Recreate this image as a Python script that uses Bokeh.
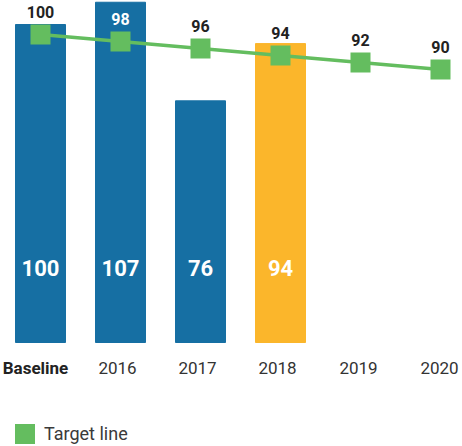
from bokeh.plotting import figure
from bokeh.models import Range1d, Legend, LegendItem, ColumnDataSource
from bokeh.core.properties import value
from bokeh.embed import file_html
from bokeh.resources import INLINE

categories = ["Baseline", "2016", "2017", "2018", "2019", "2020"]
actual = [100, 107, 76, 94]
target = [100, 98, 96, 94, 92, 90]
bar_colors = ["#166fa3", "#166fa3", "#166fa3", "#fbb62b"]
target_label_colors = ["#222222", "#ffffff", "#222222", "#222222", "#222222", "#222222"]
category_styles = ["bold", "normal", "normal", "normal", "normal", "normal"]
category_colors = ["#222222", "#333333", "#333333", "#333333", "#333333", "#333333"]
category_offsets = [-5, -3, -3, -3, -2, -1]

FONT = "Roboto"
GREEN = "#64bd5f"
PX = 3.18  # pixels per unit on the bar scale

p = figure(width=462, height=446, output_backend="svg", toolbar_location=None,
           x_range=Range1d(-0.5, 5.275), y_range=Range1d(-104 / PX, 342 / PX),
           x_axis_location=None, y_axis_location=None, min_border=0,
           outline_line_color=None, background_fill_color="white")
p.extra_y_ranges = {"target": Range1d(100 - 412 / 3.5, 100 + 34 / 3.5)}
p.xgrid.visible = False
p.ygrid.visible = False

xs_bar = list(range(len(actual)))
bar_src = ColumnDataSource(dict(x=xs_bar, top=actual, color=bar_colors,
                                label=[str(v) for v in actual],
                                ly=[23.3] * len(actual)))
p.vbar(x="x", top="top", bottom=0, width=0.625, color="color", source=bar_src)
p.text(x="x", y="ly", text="label", source=bar_src, text_align="center",
       text_baseline="alphabetic", text_color="white", text_font=value(FONT),
       text_font_size="22px", text_font_style="bold")

xs_t = list(range(len(target)))
t_src = ColumnDataSource(dict(x=xs_t, y=target, label=[str(v) for v in target],
                              color=target_label_colors))
p.line(x="x", y="y", source=t_src, y_range_name="target", line_color=GREEN, line_width=3.5)
p.scatter(x="x", y="y", source=t_src, y_range_name="target", marker="square",
          size=20, fill_color=GREEN, line_color=None)
p.text(x="x", y="y", text="label", source=t_src, y_range_name="target",
       y_offset=-23, text_align="center", text_baseline="alphabetic",
       text_color="color", text_font=value(FONT), text_font_size="16px",
       text_font_style="bold")

# category (tick) labels below the zero line
cat_src = ColumnDataSource(dict(x=list(range(len(categories))), text=categories,
                                style=category_styles, color=category_colors,
                                off=category_offsets,
                                y=[-25.5 / PX] * len(categories)))
p.text(x="x", y="y", text="text", source=cat_src, x_offset="off",
       text_align="center", text_baseline="alphabetic", text_color="color",
       text_font=value(FONT), text_font_size="17px", text_font_style="style")

# legend swatch: an invisible area renderer of the target series
swatch = p.quad(left="x", right="x", top="y", bottom="y", source=t_src,
                y_range_name="target", fill_color=GREEN, line_color=None,
                visible=False)
legend = Legend(items=[LegendItem(label="Target line", renderers=[swatch])],
                location=(12, 0), glyph_width=25, glyph_height=25,
                label_height=25, padding=0, margin=0, label_standoff=7,
                label_text_font=FONT, label_text_font_size="18px",
                label_text_color="#3a3a3a", border_line_color=None,
                background_fill_alpha=0, inactive_fill_alpha=0)
p.add_layout(legend, "center")

open("out.html", "w").write(file_html(p, INLINE))
